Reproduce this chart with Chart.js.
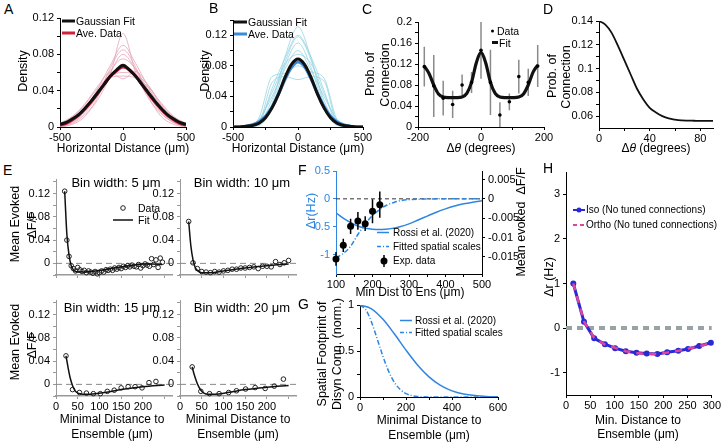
<!DOCTYPE html>
<html>
<head>
<meta charset="utf-8">
<script src="https://cdn.jsdelivr.net/npm/chart.js@4.4.0/dist/chart.umd.min.js"></script>
<style>
  body { margin: 0; width: 722px; height: 442px; overflow: hidden; position: relative; background: #fff;
         font-family: "Liberation Sans", Arial, sans-serif; color: #000; }
  canvas { position: absolute; }
  .t { position: absolute; white-space: nowrap; line-height: 1; }
</style>
</head>
<body>
<script>
// ---------- data ----------
// A / B : horizontal spread of connections
const distFine = [-500,-450,-400,-350,-300,-250,-200,-150,-100,-50,0,50,100,150,200,250,300,350,400,450,500];
const distCoarse = [-500,-400,-300,-200,-100,0,100,200,300,400,500];
const fitA = [0.003,0.005,0.009,0.014,0.021,0.029,0.038,0.047,0.056,0.063,0.068,0.063,0.056,0.047,0.038,0.029,0.021,0.014,0.009,0.005,0.003];
const aveA = [0.002,0.004,0.008,0.013,0.020,0.028,0.037,0.047,0.056,0.062,0.066,0.063,0.056,0.047,0.037,0.028,0.020,0.013,0.008,0.004,0.002];
const tracesA = [
  [0.000,0.004,0.014,0.030,0.058,0.103,0.060,0.032,0.015,0.005,0.000],
  [0.001,0.006,0.018,0.038,0.062,0.075,0.064,0.040,0.018,0.006,0.001],
  [0.003,0.010,0.022,0.040,0.056,0.060,0.057,0.042,0.024,0.010,0.002],
  [0.002,0.008,0.020,0.042,0.068,0.090,0.070,0.044,0.021,0.008,0.002],
  [0.004,0.012,0.025,0.043,0.055,0.056,0.054,0.044,0.027,0.012,0.004],
  [0.001,0.005,0.016,0.035,0.060,0.080,0.063,0.036,0.016,0.005,0.001],
  [0.002,0.009,0.021,0.039,0.054,0.066,0.058,0.046,0.024,0.009,0.002],
  [0.000,0.003,0.012,0.033,0.065,0.085,0.066,0.034,0.012,0.003,0.000],
  [0.003,0.011,0.026,0.045,0.060,0.053,0.061,0.046,0.026,0.011,0.003]
];
const fitB = [0,0,0.001,0.002,0.005,0.012,0.025,0.043,0.065,0.082,0.089,0.082,0.065,0.043,0.025,0.012,0.005,0.002,0.001,0,0];
const aveB = [0,0,0.001,0.003,0.007,0.014,0.026,0.043,0.062,0.078,0.085,0.079,0.063,0.044,0.027,0.014,0.007,0.003,0.001,0,0];
const tracesB = [
  [0,0,0.003,0.030,0.092,0.131,0.090,0.030,0.003,0,0],
  [0,0,0.004,0.036,0.085,0.118,0.088,0.035,0.004,0,0],
  [0,0.001,0.012,0.066,0.070,0.080,0.072,0.064,0.010,0.001,0],
  [0,0,0.002,0.025,0.080,0.110,0.078,0.026,0.002,0,0],
  [0,0.001,0.008,0.045,0.082,0.095,0.083,0.044,0.008,0.001,0],
  [0,0,0.006,0.058,0.066,0.062,0.066,0.060,0.006,0,0],
  [0,0.001,0.010,0.040,0.076,0.100,0.074,0.040,0.010,0.001,0],
  [0,0,0.005,0.050,0.090,0.120,0.092,0.048,0.004,0,0]
];

// C / D : connection probability vs orientation difference
const oriData = [-180,-150,-120,-90,-60,-30,0,30,60,90,120,150,180];
const probData = [0.115,0.078,0.055,0.043,0.080,0.085,0.146,0.085,0.023,0.048,0.096,0.085,0.116];
const probErr = [0.038,0.059,0.033,0.026,0.020,0.020,0.054,0.062,0.024,0.016,0.032,0.026,0.040];
const oriFit = [-180,-165,-150,-135,-120,-105,-90,-75,-60,-45,-30,-15,0,15,30,45,60,75,90,105,120,135,150,165,180];
const probFit = [0.116,0.102,0.080,0.063,0.057,0.056,0.056,0.056,0.057,0.064,0.085,0.122,0.142,0.122,0.085,0.064,0.057,0.056,0.056,0.056,0.057,0.063,0.080,0.104,0.118];
const oriD = [0,5,10,15,20,25,30,35,40,45,50,55,60,65,70,75,80,85,90];
const probD = [0.140,0.137,0.130,0.119,0.107,0.095,0.083,0.074,0.067,0.063,0.060,0.058,0.057,0.0564,0.0562,0.0561,0.056,0.056,0.056];

// E : evoked dF/F vs distance, four bin widths
const bin5X = [20,25,30,35,40,45,50,55,60,65,70,75,80,85,90,95,100,105,110,115,120,125,130,135,140,145,150,155,160,165,170,175,180,185,190,195,200,205,210,215,220,225,230,235,240,245];
const bin5Y = [0.124,0.040,0.012,-0.004,-0.009,-0.013,-0.007,-0.011,-0.014,-0.012,-0.016,-0.013,-0.015,-0.017,-0.014,-0.018,-0.016,-0.013,-0.015,-0.011,-0.012,-0.010,-0.012,-0.008,-0.010,-0.007,-0.009,-0.005,-0.007,-0.004,-0.006,-0.003,-0.005,-0.006,-0.002,-0.008,-0.004,-0.001,-0.003,-0.005,0.008,-0.002,0.006,-0.007,0.009,0.002];
const fit5X = [20,25,30,35,40,45,50,60,80,100,120,140,160,180,200,220,245];
const fit5Y = [0.124,0.050,0.014,-0.004,-0.011,-0.014,-0.015,-0.015,-0.014,-0.012,-0.010,-0.007,-0.005,-0.003,-0.001,-0.001,-0.002];
const bin10X = [20,30,40,50,60,70,80,90,100,110,120,130,140,150,160,170,180,190,200,210,220,230,240,250];
const bin10Y = [0.072,0.001,-0.009,-0.014,-0.015,-0.016,-0.014,-0.015,-0.013,-0.012,-0.010,-0.010,-0.008,-0.008,-0.007,-0.006,-0.009,-0.005,-0.005,-0.006,0.003,-0.002,0.001,0.005];
const fit10X = [20,25,30,35,40,50,70,100,150,200,250];
const fit10Y = [0.072,0.030,0.006,-0.007,-0.012,-0.016,-0.016,-0.013,-0.008,-0.004,-0.001];
const bin15X = [23,38,54,70,86,102,118,134,150,166,182,198,214,230];
const bin15Y = [0.049,-0.009,-0.014,-0.015,-0.016,-0.016,-0.012,-0.010,-0.006,-0.004,-0.004,-0.006,0.003,0.005];
const fit15X = [23,28,33,38,43,48,55,70,90,120,150,200,250];
const fit15Y = [0.049,0.028,0.010,-0.002,-0.010,-0.014,-0.016,-0.017,-0.016,-0.013,-0.009,-0.004,-0.001];
const bin20X = [28,48,68,90,112,130,151,173,196,217,238];
const bin20Y = [0.030,-0.012,-0.016,-0.016,-0.014,-0.011,-0.008,-0.0055,-0.007,-0.003,0.009];
const fit20X = [28,33,38,43,48,55,65,80,110,150,200,250];
const fit20Y = [0.030,0.016,0.005,-0.004,-0.010,-0.015,-0.017,-0.017,-0.014,-0.009,-0.005,-0.002];

// F : model vs experiment
const expDist = [100,120,140,160,180,200,220];
const expDff = [-0.0155,-0.0120,-0.0071,-0.0057,-0.0064,-0.0032,-0.0015];
const expErr = [0.0018,0.0017,0.0020,0.0023,0.0019,0.0031,0.0034];
const rossiDist = [100,125,150,175,200,225,250,275,300,325,350,375,400,425,450,475,500];
const rossiDr = [-0.25,-0.37,-0.46,-0.52,-0.545,-0.55,-0.535,-0.50,-0.45,-0.38,-0.31,-0.24,-0.18,-0.13,-0.09,-0.06,-0.035];
const fittedDist = [100,120,140,160,180,200,220,240,260,280,300,340,400,500];
const fittedDr = [-1.06,-0.98,-0.85,-0.64,-0.45,-0.30,-0.19,-0.11,-0.06,-0.03,-0.015,-0.004,0,0];

// G : spatial footprints
const gDist = [0,50,100,150,200,250,300,350,400,450,500,550,600];
const rossiFoot = [1,0.959,0.845,0.684,0.509,0.348,0.219,0.126,0.067,0.033,0.015,0.006,0.002];
const gFitDist = [0,25,50,75,100,125,150,175,200,250,300,400,600];
const fittedFoot = [1,0.95,0.814,0.63,0.44,0.277,0.157,0.081,0.037,0.006,0.001,0,0];

// H : no tuned connections
const hDist = [15,37,58,80,101,123,145,166,188,208,231,251,274,298];
const isoDr = [1.0,0.14,-0.23,-0.36,-0.45,-0.52,-0.555,-0.57,-0.58,-0.54,-0.51,-0.47,-0.40,-0.33];
const orthoDr = [1.0,0.15,-0.22,-0.37,-0.44,-0.52,-0.56,-0.58,-0.58,-0.55,-0.51,-0.46,-0.41,-0.33];

// tick positions and which of them carry a label
const ticksDist500 = [-500,-250,0,250,500], labDist500 = [-500,0,500];
const ticksDensA = [0,0.02,0.04,0.06,0.08,0.1,0.12], ticksDensB = [0,0.02,0.04,0.06,0.08,0.1,0.12,0.14];
const labDens = [0,0.04,0.08,0.12];
const ticksOriC = [-200,-100,0,100,200], labOriC = [-200,0,200];
const ticksProbC = [0,0.02,0.04,0.06,0.08,0.1,0.12,0.14,0.16,0.18,0.2], labProbC = [0,0.04,0.08,0.12,0.16,0.2];
const ticksOriD = [0,20,40,60,80], labOriD = [0,40,80];
const ticksProbD = [0.06,0.07,0.08,0.09,0.1,0.11,0.12,0.13,0.14], labProbD = [0.06,0.08,0.1,0.12,0.14];
const ticksDistE = [0,50,100,150,200,250], labDistE = [0,50,100,150,200];
const ticksDffE = [-0.02,0,0.02,0.04,0.06,0.08,0.1,0.12,0.14], labDffE = [0,0.04,0.08,0.12];
const ticksDistF = [100,150,200,250,300,350,400,450,500], labDistF = [100,200,300,400,500];
const ticksDrF = [-1,-0.5,0,0.5], ticksDffF = [-0.015,-0.01,-0.005,0,0.005];
const ticksDistG = [0,100,200,300,400,500,600], labDistG = [0,200,400,600];
const ticksFootG = [0,0.25,0.5,0.75,1], labFootG = [0,0.5,1];
const ticksDistH = [0,50,100,150,200,250,300], ticksDrH = [-1,0,1,2,3];

// ---------- helpers ----------
const BLUE = '#2f86e0';
Chart.defaults.font.family = '"Liberation Sans", Arial, sans-serif';
Chart.defaults.font.size = 11;
Chart.defaults.color = '#000';

function ax(min, max, ticks, labels, size, o) {
  o = o || {};
  const col = o.color || '#000';
  const s = {
    type: 'linear', min: min, max: max,
    afterBuildTicks: a => { a.ticks = ticks.map(v => ({ value: v })); },
    afterFit: a => { if (a.isHorizontal()) a.height = size; else a.width = size; },
    ticks: { autoSkip: false, maxRotation: 0, color: o.tcolor || '#000', padding: o.pad == null ? 3 : o.pad,
             callback: v => labels.indexOf(v) >= 0 ? String(v) : '' },
    grid: { drawOnChartArea: false, drawTicks: true, tickLength: 3, color: col },
    border: { display: true, color: col, width: o.bw || 1 }
  };
  if (o.pos) s.position = o.pos;
  return s;
}

function pts(xs, ys) { return xs.map((x, i) => ({ x: x, y: ys[i] })); }

function line(xs, ys, color, width, extra) {
  return Object.assign({ data: pts(xs, ys), showLine: true, borderColor: color, borderWidth: width,
    pointRadius: 0, fill: false }, extra || {});
}

function errBars(xs, ys, es, color, width, extra) {
  const d = [];
  xs.forEach((x, i) => { d.push({ x: x, y: ys[i] - es[i] }, { x: x, y: ys[i] + es[i] }, { x: x, y: null }); });
  return Object.assign({ data: d, showLine: true, spanGaps: false, borderColor: color, borderWidth: width, pointRadius: 0 }, extra || {});
}

function plot(r, p, datasets, scales) {
  const c = document.createElement('canvas');
  const w = r.w + p.l + p.r, h = r.h + p.t + p.b;
  c.width = w; c.height = h;
  c.style.left = (r.x - p.l) + 'px'; c.style.top = (r.y - p.t) + 'px';
  c.style.width = w + 'px'; c.style.height = h + 'px';
  document.body.appendChild(c);
  return new Chart(c, {
    type: 'scatter',
    data: { datasets: datasets },
    options: {
      responsive: false, animation: false, devicePixelRatio: 1,
      layout: { padding: { top: p.t, right: scales.y2 ? 0 : p.r, left: 0, bottom: 0 } },
      plugins: { legend: { display: false }, tooltip: { enabled: false } },
      scales: scales
    }
  });
}

function txt(html, x, y, size, o) {
  o = o || {};
  const d = document.createElement('div');
  d.className = 't';
  d.innerHTML = html;
  d.style.left = x + 'px'; d.style.top = y + 'px'; d.style.fontSize = size + 'px';
  if (o.color) d.style.color = o.color;
  d.style.transform = (o.left ? 'translate(0,-50%)' : 'translate(-50%,-50%)') + (o.rot ? ' rotate(-90deg)' : '');
  document.body.appendChild(d);
}

const NS = 'http://www.w3.org/2000/svg';
const svg = document.createElementNS(NS, 'svg');
svg.setAttribute('width', 722); svg.setAttribute('height', 442);
svg.style.position = 'absolute'; svg.style.left = '0'; svg.style.top = '0';
function seg(x1, y1, x2, y2, col, w, dash) {
  const l = document.createElementNS(NS, 'line');
  l.setAttribute('x1', x1); l.setAttribute('y1', y1); l.setAttribute('x2', x2); l.setAttribute('y2', y2);
  l.setAttribute('stroke', col); l.setAttribute('stroke-width', w);
  if (dash) l.setAttribute('stroke-dasharray', dash);
  svg.appendChild(l);
}
function dot(cx, cy, r, fill, stroke) {
  const c = document.createElementNS(NS, 'circle');
  c.setAttribute('cx', cx); c.setAttribute('cy', cy); c.setAttribute('r', r);
  c.setAttribute('fill', fill); if (stroke) { c.setAttribute('stroke', stroke); c.setAttribute('stroke-width', 1); }
  svg.appendChild(c);
}

const smooth = { tension: 0.4, cubicInterpolationMode: 'monotone' };

// ---------- A ----------
plot({ x: 60, y: 18, w: 126, h: 109 }, { l: 35, r: 14, t: 12, b: 16 },
  [line(distFine, fitA, '#111', 3, smooth), line(distFine, aveA, '#d0203a', 3, smooth)]
    .concat(tracesA.map(t => line(distCoarse, t, 'rgba(228,160,180,0.75)', 1, smooth))),
  { x: ax(-500, 500, ticksDist500, labDist500, 16, { pad: 1 }), y: ax(0, 0.12, ticksDensA, labDens, 35) });

// ---------- B ----------
plot({ x: 233, y: 20, w: 130, h: 107 }, { l: 35, r: 14, t: 12, b: 16 },
  [line(distFine, fitB, '#111', 3, smooth), line(distFine, aveB, '#3a8ad8', 3, smooth)]
    .concat(tracesB.map(t => line(distCoarse, t, 'rgba(150,212,228,0.8)', 1, smooth))),
  { x: ax(-500, 500, ticksDist500, labDist500, 16, { pad: 1 }), y: ax(0, 0.14, ticksDensB, labDens, 35) });

// ---------- C ----------
plot({ x: 418, y: 22, w: 126, h: 105 }, { l: 35, r: 14, t: 12, b: 16 },
  [ { data: pts(oriData, probData), pointRadius: 1.8, pointBackgroundColor: '#000', pointBorderWidth: 0 },
    line(oriFit, probFit, '#111', 3.2, smooth),
    errBars(oriData, probData, probErr, '#8a8a8a', 1.5) ],
  { x: ax(-200, 200, ticksOriC, labOriC, 16, { pad: 1 }), y: ax(0, 0.2, ticksProbC, labProbC, 35) });

// ---------- D ----------
plot({ x: 599, y: 21, w: 114, h: 107 }, { l: 35, r: 9, t: 12, b: 16 },
  [line(oriD, probD, '#111', 1.8, smooth)],
  { x: ax(0, 90, ticksOriD, labOriD, 16, { pad: 1 }), y: ax(0.05, 0.14, ticksProbD, labProbD, 35) });

// ---------- E ----------
function panelE(r, bx, by, fx, fy, showX) {
  plot(r, { l: 35, r: 8, t: 12, b: 16 },
    [ line(fx, fy, '#111', 1.5, smooth),
      { data: pts(bx, by), pointRadius: 2.3, pointBackgroundColor: 'rgba(255,255,255,0)', pointBorderColor: '#222', pointBorderWidth: 1, clip: false },
      line([0, 267], [0, 0], '#888', 1, { borderDash: [6, 4] }) ],
    { x: ax(0, 267, ticksDistE, showX ? labDistE : [], 16, { pad: 1, color: '#999', bw: 1.5 }),
      y: ax(-0.02, 0.145, ticksDffE, labDffE, 35, { color: '#999' }) });
}
panelE({ x: 56, y: 179, w: 116, h: 96 }, bin5X, bin5Y, fit5X, fit5Y, false);
panelE({ x: 180, y: 179, w: 116, h: 96 }, bin10X, bin10Y, fit10X, fit10Y, false);
panelE({ x: 56, y: 300, w: 116, h: 96 }, bin15X, bin15Y, fit15X, fit15Y, true);
panelE({ x: 180, y: 300, w: 116, h: 96 }, bin20X, bin20Y, fit20X, fit20Y, true);

// ---------- F ----------
plot({ x: 336, y: 171, w: 146, h: 103 }, { l: 35, r: 45, t: 12, b: 16 },
  [ Object.assign({ data: pts(expDist, expDff), yAxisID: 'y2', pointRadius: 3.5, pointBackgroundColor: '#000', pointBorderWidth: 0, clip: false }),
    errBars(expDist, expDff, expErr, '#000', 1.5, { yAxisID: 'y2', clip: false }),
    line(rossiDist, rossiDr, BLUE, 1.5, Object.assign({ yAxisID: 'y' }, smooth)),
    line(fittedDist, fittedDr, BLUE, 1.5, Object.assign({ yAxisID: 'y', borderDash: [5, 2, 1, 2] }, smooth)),
    line([100, 500], [0, 0], '#333', 1, { yAxisID: 'y', borderDash: [4, 3] }) ],
  { x: ax(100, 500, ticksDistF, labDistF, 16, { pad: 1 }),
    y: ax(-1.35, 0.5, ticksDrF, ticksDrF, 35, { color: BLUE, tcolor: BLUE }),
    y2: ax(-0.0194, 0.0072, ticksDffF, ticksDffF, 45, { pos: 'right' }) });

// ---------- G ----------
plot({ x: 360, y: 305, w: 138, h: 92 }, { l: 30, r: 14, t: 12, b: 16 },
  [ line(gDist, rossiFoot, BLUE, 1.5, smooth),
    line(gFitDist, fittedFoot, BLUE, 1.5, Object.assign({ borderDash: [5, 2, 1, 2] }, smooth)) ],
  { x: ax(0, 600, ticksDistG, labDistG, 16, { pad: 1 }), y: ax(0, 1, ticksFootG, labFootG, 30) });

// ---------- H ----------
plot({ x: 566, y: 172, w: 146, h: 223 }, { l: 30, r: 10, t: 12, b: 16 },
  [ line(hDist, orthoDr, '#e0449c', 2.5, { borderDash: [7, 6], clip: false }),
    line(hDist, isoDr, '#2a2ad4', 3, { pointRadius: 3, pointBackgroundColor: '#2a2ad4', pointBorderWidth: 0, clip: false }),
    line([0, 300], [0, 0], '#9aa3a3', 4, { borderDash: [6, 5] }) ],
  { x: ax(0, 300, ticksDistH, ticksDistH, 16, { pad: 1 }), y: ax(-1.5, 3.5, ticksDrH, ticksDrH, 30) });

// ---------- text ----------
const L = 14, T = 12, S = 10.5;
txt('A', 4, 9, L, { left: true }); txt('B', 209, 8, L, { left: true });
txt('C', 362, 9, L, { left: true }); txt('D', 543, 9, L, { left: true });
txt('E', 3, 170, L, { left: true }); txt('F', 298, 170, L, { left: true });
txt('G', 298, 304, L, { left: true }); txt('H', 543, 168, L, { left: true });

txt('Density', 23, 71, 12.5, { rot: true }); txt('Density', 205, 71, 12.5, { rot: true });
txt('Horizontal Distance (μm)', 123, 148, T); txt('Horizontal Distance (μm)', 298, 148, T);
txt('Prob. of', 370, 74, 12.5, { rot: true }); txt('Connection', 385, 75, 12.5, { rot: true });
txt('Δ<i>θ</i> (degrees)', 481, 148, T);
txt('Prob. of', 552, 76, 12.5, { rot: true }); txt('Connection', 566, 77, 12.5, { rot: true });
txt('Δ<i>θ</i> (degrees)', 656, 148, T);

txt('Gaussian Fit', 76, 21, S, { left: true }); txt('Ave. Data', 76, 33, S, { left: true });
seg(62, 21, 75, 21, '#111', 3); seg(62, 33, 75, 33, '#d0203a', 3);
txt('Gaussian Fit', 248, 22, S, { left: true }); txt('Ave. Data', 248, 34, S, { left: true });
seg(234, 22, 247, 22, '#111', 3); seg(234, 34, 247, 34, '#3a8ad8', 3);
dot(492.5, 31, 1.5, '#000'); txt('Data', 497, 31, S, { left: true });
seg(492, 42.5, 498, 42.5, '#111', 3); txt('Fit', 499, 42.5, S, { left: true });

txt('Mean Evoked', 15, 224, 12.5, { rot: true }); txt('ΔF/F', 32, 225, 12.5, { rot: true });
txt('Mean Evoked', 15, 342, 12.5, { rot: true }); txt('ΔF/F', 32, 345, 12.5, { rot: true });
txt('Bin width: 5 μm', 116, 182, 13); txt('Bin width: 10 μm', 242, 182, 13);
txt('Bin width: 15 μm', 112, 307, 13); txt('Bin width: 20 μm', 242, 307, 13);
dot(123, 208, 2.3, 'none', '#222'); txt('Data', 138, 208, S, { left: true });
seg(113, 220, 133, 220, '#111', 1.5); txt('Fit', 138, 220, S, { left: true });
txt('Minimal Distance to', 112, 419, T); txt('Ensemble (μm)', 112, 434, T);
txt('Minimal Distance to', 238, 419, T); txt('Ensemble (μm)', 238, 434, T);

txt('Δr(Hz)', 311, 211, 12.5, { rot: true, color: BLUE });
txt('Mean evoked&nbsp; ΔF/F', 521, 222, 12.5, { rot: true });
txt('Min Dist to Ens (μm)', 410, 292, T);
seg(377, 232.5, 389, 232.5, BLUE, 1.5); txt('Rossi et al. (2020)', 393, 232.5, 10, { left: true });
seg(377, 246.5, 389, 246.5, BLUE, 1.5, '4,2,1,2'); txt('Fitted spatial scales', 393, 246.5, 10, { left: true });
seg(384, 255, 384, 267, '#000', 1.5); dot(384, 261, 3.5, '#000'); txt('Exp. data', 393, 261, 10, { left: true });

txt('Spatial Footprint of', 322, 354, 12.5, { rot: true }); txt('Disyn Conn. (norm.)', 337, 354, 12.5, { rot: true });
txt('Minimal Distance to', 429, 420, T); txt('Ensemble (μm)', 429, 435, T);
seg(400, 320.5, 412, 320.5, BLUE, 1.5); txt('Rossi et al. (2020)', 415, 320.5, 10, { left: true });
seg(400, 332.5, 412, 332.5, BLUE, 1.5, '4,2,1,2'); txt('Fitted spatial scales', 415, 332.5, 10, { left: true });

txt('Δr (Hz)', 549, 277, 12.5, { rot: true });
txt('Min. Distance to', 638, 420, T); txt('Ensemble (μm)', 638, 434, T);
seg(573, 210, 585, 210, '#2a2ad4', 2); dot(579, 210, 2.5, '#2a2ad4');
txt('Iso (No tuned connections)', 586, 210, 10, { left: true });
seg(573, 225, 585, 225, '#e0449c', 2, '4,3');
txt('Ortho (No tuned connections)', 586, 225, 10, { left: true });

document.body.appendChild(svg);
</script>
</body>
</html>
